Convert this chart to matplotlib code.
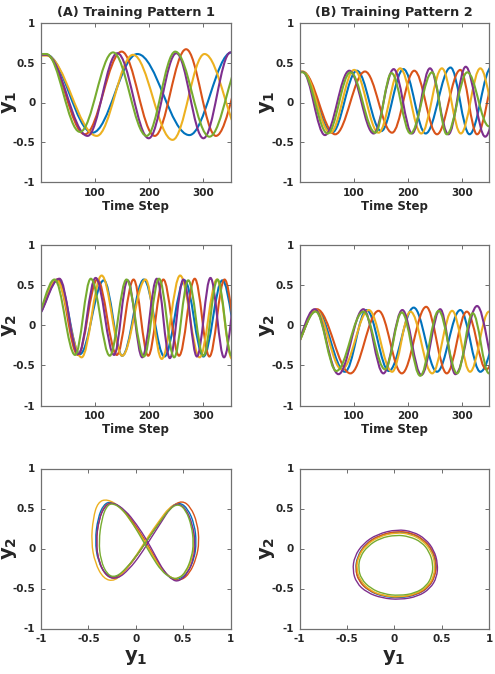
import numpy as np
import matplotlib
matplotlib.use('Agg')
import matplotlib.pyplot as plt
from matplotlib.path import Path
from matplotlib.patches import PathPatch

plt.rcParams['font.family'] = ['DejaVu Sans']
plt.rcParams['font.weight'] = 'bold'
plt.rcParams['mathtext.fontset'] = 'dejavusans'

colors = ['#0072BD', '#D95319', '#EDB120', '#7E2F8E', '#77AC30']  # blue, red, yellow, purple, green

# ---- Time series: extrema (time step, value) per line ----
# Pattern 1, y1
A_y1_t = [[0, 10, 95, 178, 274, 352],
          [0, 10, 81, 149, 210, 268, 323, 385],
          [0, 10, 103, 170, 243, 302, 375],
          [0, 10, 86, 141, 199, 250, 300, 350],
          [0, 10, 72, 133, 195, 248, 311, 375]]
A_y1_v = [[0.60, 0.60, -0.38, 0.61, -0.41, 0.63],
          [0.60, 0.60, -0.40, 0.64, -0.42, 0.67, -0.42, 0.60],
          [0.59, 0.59, -0.42, 0.60, -0.47, 0.61, -0.45],
          [0.60, 0.60, -0.42, 0.62, -0.45, 0.62, -0.45, 0.63],
          [0.61, 0.61, -0.37, 0.63, -0.42, 0.64, -0.43, 0.60]]
# Pattern 1, y2
A_y2_t = [[-12, 32, 72, 116, 150, 190, 228, 265, 300, 335, 370],
          [-12, 30, 68, 104, 140, 171, 198, 226, 255, 284, 311, 339, 368],
          [-12, 28, 75, 112, 150, 193, 223, 257, 293, 325, 353],
          [-12, 34, 69, 101, 135, 160, 187, 214, 238, 263, 288, 313, 338, 365],
          [-12, 25, 63, 92, 127, 158, 190, 218, 246, 272, 300, 326, 352]]
A_y2_v = [[0.08, 0.57, -0.36, 0.56, -0.38, 0.57, -0.39, 0.56, -0.39, 0.56, -0.39],
          [0.08, 0.57, -0.37, 0.57, -0.37, 0.57, -0.38, 0.57, -0.38, 0.58, -0.39, 0.57, -0.38],
          [0.08, 0.56, -0.40, 0.62, -0.38, 0.57, -0.42, 0.62, -0.40, 0.57, -0.42],
          [0.08, 0.58, -0.36, 0.59, -0.37, 0.56, -0.40, 0.58, -0.41, 0.57, -0.39, 0.59, -0.40, 0.58],
          [0.08, 0.57, -0.37, 0.58, -0.38, 0.57, -0.39, 0.58, -0.40, 0.56, -0.38, 0.57, -0.38]]
# Pattern 2, y1
B_y1_t = [[0, 6, 60, 106, 151, 192, 233, 279, 314, 355],
          [0, 6, 66, 121, 171, 212, 254, 297, 328, 365],
          [0, 6, 57, 101, 146, 186, 225, 263, 298, 334, 370],
          [0, 6, 47, 92, 137, 174, 208, 241, 275, 307, 343, 380],
          [0, 6, 52, 94, 140, 170, 205, 245, 272, 310, 350]]
B_y1_v = [[0.385, 0.385, -0.38, 0.40, -0.36, 0.42, -0.39, 0.44, -0.40, 0.45],
          [0.385, 0.385, -0.40, 0.39, -0.38, 0.40, -0.40, 0.41, -0.40, 0.40],
          [0.39, 0.39, -0.38, 0.41, -0.38, 0.43, -0.39, 0.43, -0.39, 0.43, -0.40],
          [0.385, 0.385, -0.41, 0.40, -0.39, 0.42, -0.39, 0.43, -0.40, 0.45, -0.43, 0.40],
          [0.38, 0.38, -0.39, 0.38, -0.38, 0.37, -0.39, 0.38, -0.40, 0.38, -0.30]]
# Pattern 2, y2
B_y2_t = [[-15, 31, 84, 124, 165, 211, 254, 297, 334, 380],
          [-15, 32, 94, 146, 189, 234, 272, 309, 345, 385],
          [-15, 30, 78, 128, 171, 205, 245, 282, 315, 350],
          [-15, 28, 72, 118, 155, 190, 225, 260, 288, 328, 365],
          [-15, 30, 68, 118, 158, 189, 223, 257, 291, 320, 350]]
B_y2_v = [[-0.32, 0.19, -0.58, 0.19, -0.57, 0.22, -0.58, 0.19, -0.58, 0.18],
          [-0.32, 0.20, -0.60, 0.18, -0.60, 0.23, -0.60, 0.17, -0.55, 0.15],
          [-0.32, 0.19, -0.55, 0.19, -0.58, 0.17, -0.60, 0.18, -0.58, 0.17],
          [-0.32, 0.20, -0.61, 0.20, -0.60, 0.19, -0.62, 0.20, -0.61, 0.24, -0.60],
          [-0.32, 0.17, -0.57, 0.17, -0.55, 0.16, -0.63, 0.18, -0.60, 0.15, -0.60]]

# ---- Phase portraits: y1 / y2 points along one circuit per line ----
A_ph_y1 = [[-0.26, -0.14, -0.03, 0.08, 0.18, 0.28, 0.38, 0.46, 0.55, 0.62, 0.64, 0.62, 0.55, 0.46, 0.37, 0.27, 0.15, 0.03, -0.09, -0.20, -0.31, -0.40, -0.43, -0.40, -0.34],
           [-0.25, -0.13, -0.02, 0.09, 0.19, 0.29, 0.39, 0.48, 0.57, 0.64, 0.67, 0.65, 0.58, 0.49, 0.38, 0.27, 0.15, 0.03, -0.09, -0.20, -0.31, -0.39, -0.42, -0.39, -0.33],
           [-0.30, -0.16, -0.05, 0.07, 0.17, 0.27, 0.37, 0.45, 0.54, 0.60, 0.62, 0.60, 0.53, 0.44, 0.35, 0.25, 0.13, 0.01, -0.11, -0.22, -0.34, -0.43, -0.47, -0.45, -0.40],
           [-0.24, -0.11, 0.01, 0.12, 0.21, 0.30, 0.39, 0.46, 0.55, 0.61, 0.63, 0.60, 0.53, 0.44, 0.36, 0.27, 0.16, 0.05, -0.07, -0.19, -0.30, -0.39, -0.42, -0.39, -0.32],
           [-0.24, -0.13, -0.03, 0.07, 0.17, 0.27, 0.37, 0.45, 0.53, 0.59, 0.61, 0.59, 0.53, 0.45, 0.36, 0.26, 0.14, 0.02, -0.10, -0.21, -0.30, -0.37, -0.39, -0.36, -0.31]]
A_ph_y2 = [[0.59, 0.50, 0.33, 0.13, -0.08, -0.27, -0.38, -0.39, -0.30, -0.12, 0.08, 0.30, 0.50, 0.58, 0.52, 0.36, 0.16, -0.06, -0.24, -0.37, -0.34, -0.16, 0.10, 0.38, 0.55],
           [0.58, 0.49, 0.32, 0.12, -0.09, -0.28, -0.39, -0.40, -0.31, -0.12, 0.08, 0.32, 0.52, 0.60, 0.53, 0.36, 0.16, -0.06, -0.25, -0.38, -0.35, -0.17, 0.08, 0.36, 0.54],
           [0.62, 0.52, 0.34, 0.14, -0.07, -0.26, -0.37, -0.38, -0.29, -0.11, 0.08, 0.29, 0.49, 0.57, 0.51, 0.35, 0.15, -0.08, -0.27, -0.41, -0.38, -0.18, 0.08, 0.38, 0.58],
           [0.58, 0.48, 0.30, 0.10, -0.10, -0.29, -0.40, -0.41, -0.31, -0.13, 0.07, 0.30, 0.50, 0.57, 0.50, 0.33, 0.13, -0.08, -0.26, -0.38, -0.36, -0.18, 0.08, 0.37, 0.54],
           [0.57, 0.48, 0.31, 0.11, -0.10, -0.28, -0.37, -0.38, -0.29, -0.11, 0.07, 0.28, 0.48, 0.56, 0.50, 0.34, 0.14, -0.07, -0.25, -0.36, -0.33, -0.15, 0.09, 0.36, 0.53]]
B_ph_y1 = [[0.02, 0.18, 0.31, 0.40, 0.44, 0.43, 0.37, 0.24, 0.06, -0.12, -0.27, -0.37, -0.41, -0.39, -0.31, -0.17],
           [0.04, 0.20, 0.32, 0.41, 0.45, 0.43, 0.36, 0.23, 0.05, -0.13, -0.28, -0.38, -0.41, -0.38, -0.30, -0.15],
           [0.02, 0.17, 0.30, 0.39, 0.43, 0.42, 0.36, 0.23, 0.05, -0.12, -0.26, -0.36, -0.40, -0.38, -0.30, -0.16],
           [0.03, 0.20, 0.33, 0.42, 0.46, 0.45, 0.38, 0.25, 0.06, -0.13, -0.29, -0.40, -0.44, -0.42, -0.33, -0.18],
           [0.02, 0.16, 0.29, 0.37, 0.41, 0.40, 0.34, 0.22, 0.05, -0.11, -0.25, -0.35, -0.38, -0.36, -0.28, -0.15]]
B_ph_y2 = [[0.21, 0.19, 0.11, -0.02, -0.18, -0.34, -0.48, -0.58, -0.62, -0.60, -0.53, -0.41, -0.26, -0.10, 0.05, 0.16],
           [0.22, 0.19, 0.10, -0.03, -0.19, -0.35, -0.49, -0.58, -0.61, -0.59, -0.52, -0.40, -0.25, -0.09, 0.06, 0.17],
           [0.20, 0.18, 0.10, -0.03, -0.18, -0.34, -0.47, -0.57, -0.61, -0.59, -0.52, -0.40, -0.25, -0.10, 0.04, 0.15],
           [0.24, 0.21, 0.12, -0.02, -0.19, -0.36, -0.50, -0.60, -0.64, -0.62, -0.55, -0.43, -0.27, -0.10, 0.06, 0.18],
           [0.17, 0.15, 0.08, -0.04, -0.19, -0.34, -0.47, -0.56, -0.59, -0.57, -0.50, -0.38, -0.24, -0.10, 0.03, 0.13]]

titles = ['(A) Training Pattern 1', '(B) Training Pattern 2']
y_ticks = [-1, -0.5, 0, 0.5, 1]
y_tick_labels = ['-1', '-0.5', '0', '0.5', '1']
t_ticks = [100, 200, 300]
t_tick_labels = ['100', '200', '300']

K = 1 - 2 / np.pi


def wave(ax, ts, vs, color, lw=1.5):
    verts = [(ts[0], vs[0])]
    codes = [Path.MOVETO]
    for i in range(1, len(ts)):
        d = ts[i] - ts[i - 1]
        verts += [(ts[i - 1] + K * d, vs[i - 1]), (ts[i] - K * d, vs[i]), (ts[i], vs[i])]
        codes += [Path.CURVE4] * 3
    ax.add_patch(PathPatch(Path(verts, codes), fc='none', ec=color, lw=lw,
                           capstyle='round', joinstyle='round'))


def loop(ax, xs, ys, color, lw=1.0):
    n = len(xs)
    pts = list(zip(xs, ys))
    mids = [((pts[i][0] + pts[(i + 1) % n][0]) / 2, (pts[i][1] + pts[(i + 1) % n][1]) / 2) for i in range(n)]
    verts = [mids[0]]
    codes = [Path.MOVETO]
    for i in range(1, n + 1):
        verts += [pts[i % n], mids[i % n]]
        codes += [Path.CURVE3, Path.CURVE3]
    ax.add_patch(PathPatch(Path(verts, codes), fc='none', ec=color, lw=lw))


def style(ax):
    ax.set_ylim(-1, 1)
    ax.set_yticks(y_ticks)
    ax.set_yticklabels(y_tick_labels)
    ax.tick_params(direction='in', length=3, width=0.6, top=True, right=True,
                   labelsize=7.5, color='#555555', labelcolor='#262626', pad=4)
    for s in ax.spines.values():
        s.set_color('#707070')
        s.set_linewidth(0.9)


fig = plt.figure(figsize=(4.95, 6.74), dpi=100)
W, H = 495, 674
lefts = [41, 299.5]
rows = [(23, 182), (245, 405.5), (468.5, 628.5)]
axw = 189.5

ts_data = [[(A_y1_t, A_y1_v), (B_y1_t, B_y1_v)], [(A_y2_t, A_y2_v), (B_y2_t, B_y2_v)]]
ylab = [r'$\mathbf{y}_\mathbf{1}$', r'$\mathbf{y}_\mathbf{2}$']

for r in range(2):
    for c in range(2):
        top, bot = rows[r]
        ax = fig.add_axes([lefts[c] / W, (H - bot) / H, axw / W, (bot - top) / H])
        tl, vl = ts_data[r][c]
        for i in range(5):
            wave(ax, tl[i], vl[i], colors[i])
        ax.set_xlim(0, 350)
        ax.set_xticks(t_ticks)
        ax.set_xticklabels(t_tick_labels)
        style(ax)
        ax.set_xlabel('Time Step', fontsize=8.5, fontweight='bold', labelpad=1.5, color='#262626')
        ax.set_ylabel(ylab[r], fontsize=14, color='#262626')
        ax.yaxis.set_label_coords(-0.118, 0.5)
        if r == 0:
            ax.set_title(titles[c], fontsize=9.3, fontweight='bold', pad=5, color='#262626')

ph = [(A_ph_y1, A_ph_y2), (B_ph_y1, B_ph_y2)]
for c in range(2):
    top, bot = rows[2]
    ax = fig.add_axes([lefts[c] / W, (H - bot) / H, axw / W, (bot - top) / H])
    xs, ys = ph[c]
    for i in range(5):
        loop(ax, xs[i], ys[i], colors[i])
    ax.set_xlim(-1, 1)
    ax.set_xticks(y_ticks)
    ax.set_xticklabels(y_tick_labels)
    style(ax)
    ax.set_xlabel(ylab[0], fontsize=14, labelpad=3, color='#262626')
    ax.set_ylabel(ylab[1], fontsize=14, color='#262626')
    ax.yaxis.set_label_coords(-0.118, 0.5)

fig.savefig('out.png', dpi=100, facecolor='white')
